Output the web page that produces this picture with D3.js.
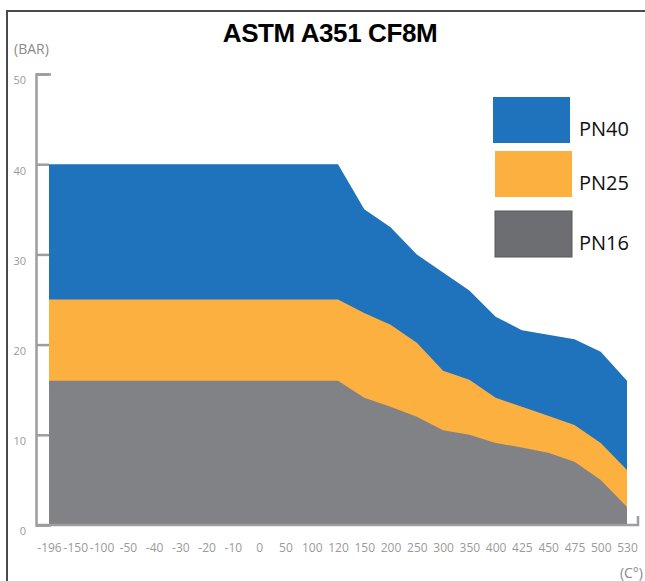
<!DOCTYPE html>
<html>
<head>
<meta charset="utf-8">
<script src="https://d3js.org/d3.v7.min.js"></script>
<style>
  body { margin: 0; background: #fff; }
  .axis text { font-family: "Open Sans", sans-serif; font-size: 11px; fill: #9a9a9a; }
  .axis path, .axis line { stroke: #9d9d9f; stroke-width: 2.5; fill: none; }
  .xaxis text { font-size: 12px; }
  .legend text { font-family: "Open Sans", sans-serif; font-size: 20px; fill: #111; }
</style>
</head>
<body>
<svg id="chart" width="645" height="581"></svg>
<script>
// temperatures (C°)
var temps = ["-196","-150","-100","-50","-40","-30","-20","-10","0","50","100","120",
             "150","200","250","300","350","400","425","450","475","500","530"];
// allowable pressure (bar) per rating
var pn40 = [40,40,40,40,40,40,40,40,40,40,40,40,35,33,30,28,26,23.1,21.6,21.1,20.6,19.2,16];
var pn25 = [25,25,25,25,25,25,25,25,25,25,25,25,23.5,22.2,20.2,17.1,16.1,14.1,13.1,12.1,11.1,9.1,6.1];
var pn16 = [16,16,16,16,16,16,16,16,16,16,16,16,14.1,13.1,12,10.5,10,9.1,8.6,8,7,5,2];
var yTicks = [0,10,20,30,40,50];

var series = [
  {name: "PN40", values: pn40, color: "#1f73bc", key: "#1f73bc"},
  {name: "PN25", values: pn25, color: "#fbb040", key: "#fbb040"},
  {name: "PN16", values: pn16, color: "#808285", key: "#6d6e71"}
];

var svg = d3.select("#chart");

// frame
svg.append("path")
  .attr("d", "M7,581V11H645")
  .attr("fill", "none")
  .attr("stroke", "#4a4a4a")
  .attr("stroke-width", 2);

svg.append("text")
  .attr("x", 330).attr("y", 42)
  .attr("text-anchor", "middle")
  .style("font-family", "'Liberation Sans', Arial, sans-serif")
  .style("font-weight", "bold")
  .style("font-size", "26px")
  .style("letter-spacing", "-0.4px")
  .text("ASTM A351 CF8M");

svg.append("text")
  .attr("x", 14).attr("y", 54)
  .style("font-family", "'Open Sans', sans-serif")
  .style("font-size", "14px")
  .style("fill", "#8a8a8a")
  .text("(BAR)");

var x = d3.scalePoint().domain(temps).range([49, 627]);
var y = d3.scaleLinear().domain([0, 50]).range([525, 74]);

var area = d3.area()
  .x(function(d, i) { return x(temps[i]); })
  .y0(y(0))
  .y1(function(d) { return y(d); });

svg.selectAll(".layer")
  .data(series)
  .enter().append("path")
  .attr("class", "layer")
  .attr("fill", function(d) { return d.color; })
  .attr("d", function(d) { return area(d.values); });

// y axis
var yAxis = svg.append("g")
  .attr("class", "axis")
  .attr("transform", "translate(36,0)")
  .call(d3.axisLeft(y).tickValues(yTicks).tickSizeInner(-13).tickSizeOuter(-15).tickPadding(10));
yAxis.selectAll("text").attr("dy", "0.9em");

// x baseline
svg.append("path")
  .attr("d", "M36," + y(0) + "H638V" + (y(0) - 9))
  .attr("fill", "none")
  .attr("stroke", "#9d9d9f")
  .attr("stroke-width", 2.5);

var xAxis = svg.append("g")
  .attr("class", "axis xaxis")
  .attr("transform", "translate(0," + (y(0) + 16) + ")")
  .call(d3.axisBottom(x).tickSize(0).tickPadding(2));
xAxis.select(".domain").remove();

svg.append("text")
  .attr("x", 643).attr("y", 578)
  .attr("text-anchor", "end")
  .style("font-family", "'Open Sans', sans-serif")
  .style("font-size", "14px")
  .style("fill", "#8a8a8a")
  .text("(C°)");

// legend
var legendBoxes = [[493, 97], [495, 151], [495, 211]];
var legend = svg.append("g").attr("class", "legend");
series.forEach(function(s, i) {
  var b = legendBoxes[i];
  legend.append("rect")
    .attr("x", b[0]).attr("y", b[1])
    .attr("width", 77).attr("height", 46)
    .attr("fill", s.key)
    .attr("stroke", i == 2 ? "#58595b" : "none");
  legend.append("text")
    .attr("x", 579).attr("y", b[1] + 39)
    .text(s.name);
});
</script>
</body>
</html>
